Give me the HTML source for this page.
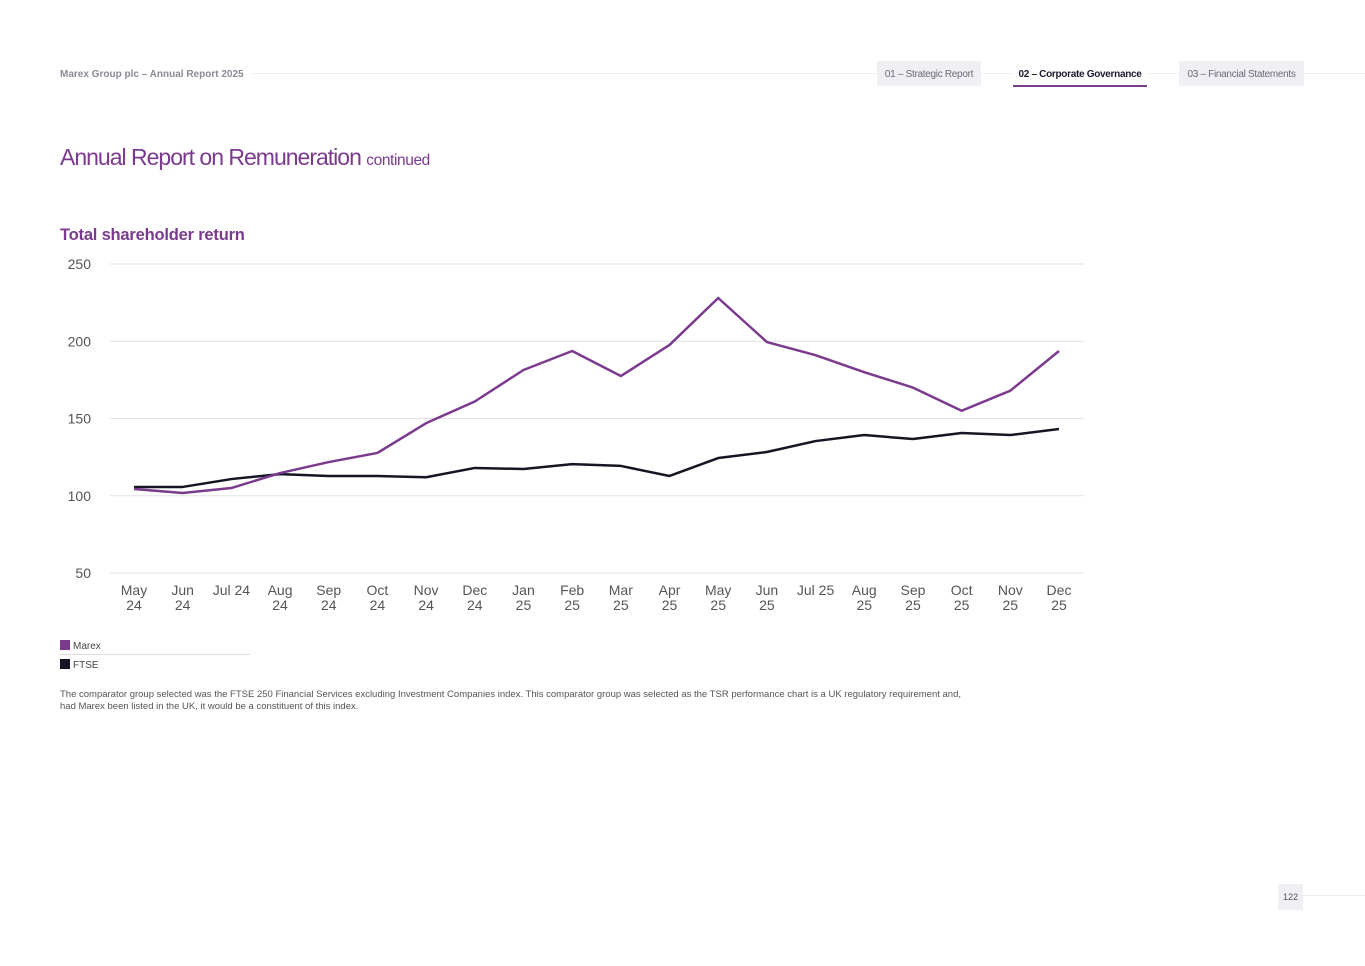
<!DOCTYPE html>
<html><head><meta charset="utf-8"><style>
body{margin:0;width:1365px;height:966px;background:#fff;font-family:"Liberation Sans",sans-serif;position:relative;overflow:hidden}
.abs{position:absolute}
.tab{position:absolute;top:61px;height:25px;line-height:27px;font-size:10px;color:#6a6a78;background:#f0eff3;text-align:center;letter-spacing:-0.3px}
</style></head><body>
<div class="abs" style="left:250px;top:73px;width:1115px;height:1px;background:#eeeef2"></div>
<div class="abs" style="left:60px;top:69px;font-size:10px;color:#8a8a96;font-weight:bold;background:#fff;padding-right:8px">Marex Group plc – Annual Report 2025</div>
<div class="tab" style="left:877px;width:104px">01 – Strategic Report</div>
<div class="tab" style="left:1013px;width:134px;background:#fff;color:#1a1a2e;font-weight:bold;border-bottom:2px solid #7b3a8e;height:24px">02 – Corporate Governance</div>
<div class="tab" style="left:1179px;width:125px">03 – Financial Statements</div>
<div class="abs" style="left:60px;top:144px;font-size:23px;color:#7b3a8e;letter-spacing:-1px">Annual Report on Remuneration <span style="font-size:15.5px;letter-spacing:-0.4px">continued</span></div>
<div class="abs" style="left:60px;top:226px;font-size:16.5px;color:#7b3a8e;font-weight:bold;letter-spacing:-0.2px">Total shareholder return</div>
<svg class="abs" style="left:0;top:0" width="1365" height="966" id="chart"></svg>
<div class="abs" style="left:60px;top:640px;font-size:10px;color:#444"><span style="display:inline-block;width:10px;height:10px;background:#7b3a8e;vertical-align:-1px;margin-right:3px"></span>Marex</div>
<div class="abs" style="left:60px;top:654px;width:190px;height:1px;background:#ddd"></div>
<div class="abs" style="left:60px;top:659px;font-size:10px;color:#444"><span style="display:inline-block;width:10px;height:10px;background:#151525;vertical-align:-1px;margin-right:3px"></span>FTSE</div>
<div class="abs" style="left:60px;top:689px;width:910px;font-size:9.5px;color:#555;line-height:12px">The comparator group selected was the FTSE 250 Financial Services excluding Investment Companies index. This comparator group was selected as the TSR performance chart is a UK regulatory requirement and, had Marex been listed in the UK, it would be a constituent of this index.</div>
<div class="abs" style="left:1303px;top:895px;width:62px;height:1px;background:#eeeef2"></div>
<div class="abs" style="left:1278px;top:884px;width:25px;height:26px;line-height:26px;background:#f0eff3;font-size:9px;color:#555;text-align:center">122</div>
<script>
const categories=[["May","24"],["Jun","24"],["Jul 24"],["Aug","24"],["Sep","24"],["Oct","24"],["Nov","24"],["Dec","24"],["Jan","25"],["Feb","25"],["Mar","25"],["Apr","25"],["May","25"],["Jun","25"],["Jul 25"],["Aug","25"],["Sep","25"],["Oct","25"],["Nov","25"],["Dec","25"]];
const marex=[104.4,101.8,105,114.7,121.8,127.7,147,161,181.4,193.7,177.5,197.6,228,199.5,191,180,170,155,168,193.7];
const ftse=[105.7,105.7,110.8,114,112.8,112.8,112,118,117.3,120.5,119.3,112.8,124.4,128.3,135.4,139.3,136.7,140.6,139.3,143.2];
const yTicks=[50,100,150,200,250];
const svg=document.getElementById('chart');
const NS='http://www.w3.org/2000/svg';
const x=i=>134+i*(1059-134)/(categories.length-1);
const y=v=>573-(v-50)*(573-264)/200;
function mk(t,a){const e=document.createElementNS(NS,t);for(const k in a)e.setAttribute(k,a[k]);svg.appendChild(e);return e;}
yTicks.forEach(v=>{
 const l=mk('line',{x1:110,x2:1084,y1:y(v),y2:y(v),stroke:'#e2e2e6','stroke-width':1});
 
 
 const t=mk('text',{x:91,y:y(v)+5,'text-anchor':'end','font-size':14,fill:'#555','font-family':'Liberation Sans, sans-serif'});
 t.textContent=v;
 
 
});
categories.forEach((c,i)=>{
 c.forEach((s,j)=>{
  const t=mk('text',{x:x(i),y:595+j*15,'text-anchor':'middle','font-size':14,fill:'#555','font-family':'Liberation Sans, sans-serif'});
  t.textContent=s;
  
  
 });
});
function series(vals,col,name){
 const p=mk('polyline',{points:vals.map((v,i)=>x(i)+','+y(v)).join(' '),fill:'none',stroke:col,'stroke-width':2.5,'stroke-linejoin':'round'});
 
 
}
series(ftse,'#151525','ftse-line');
series(marex,'#7b3a8e','marex-line');
</script>
</body></html>
